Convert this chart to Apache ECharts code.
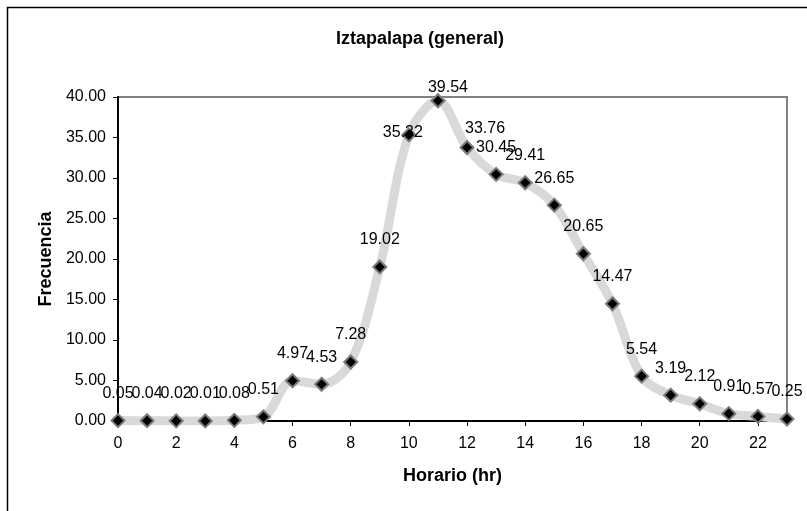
<!DOCTYPE html>
<html>
<head>
<meta charset="utf-8">
<script src="https://cdn.jsdelivr.net/npm/echarts@6/dist/echarts.min.js"></script>
<style>
  html, body { margin: 0; padding: 0; background: #fff; }
  #chart { width: 807px; height: 511px; }
</style>
</head>
<body>
<div id="chart"></div>
<script>
// Hourly frequency, Iztapalapa
const hours = ['0','1','2','3','4','5','6','7','8','9','10','11','12','13','14','15','16','17','18','19','20','21','22','23'];
const frecuencia = [0.05, 0.04, 0.02, 0.01, 0.08, 0.51, 4.97, 4.53, 7.28, 19.02, 35.32, 39.54,
                    33.76, 30.45, 29.41, 26.65, 20.65, 14.47, 5.54, 3.19, 2.12, 0.91, 0.57, 0.25];
const yTicks = { min: 0, max: 40, interval: 5 };

// labels that sit away from the default spot above the marker
const labelShift = { 10: [-6, -2], 11: [10, -13], 12: [18, -19] };

const FONT = 'Liberation Sans, Arial, sans-serif';

const chart = echarts.init(document.getElementById('chart'), null, { renderer: 'canvas' });

const seriesData = frecuencia.map((v, i) => ({
  value: v,
  label: { offset: labelShift[i] || [0, -27] }
}));

chart.setOption({
  animation: false,
  backgroundColor: '#ffffff',
  title: {
    text: 'Iztapalapa (general)',
    left: 415,
    top: 25,
    textAlign: 'center',
    textStyle: { fontFamily: FONT, fontSize: 18, fontWeight: 'bold', color: '#000' }
  },
  graphic: [{
    type: 'rect',
    shape: { x: 7.5, y: 7.5, width: 900, height: 600 },
    style: { fill: 'none', stroke: '#000', lineWidth: 1.5 },
    silent: true
  }],
  grid: {
    left: 118, top: 97, right: 20, bottom: 90,
    show: true, borderColor: '#808080', borderWidth: 2, backgroundColor: 'transparent'
  },
  xAxis: {
    type: 'category',
    data: hours,
    boundaryGap: false,
    name: 'Horario (hr)',
    nameLocation: 'middle',
    nameGap: 46,
    nameTextStyle: { fontFamily: FONT, fontSize: 18, fontWeight: 'bold', color: '#000' },
    axisLine: { lineStyle: { color: '#000', width: 2 } },
    axisTick: { show: true, interval: 1, length: 5, lineStyle: { color: '#000', width: 1 } },
    axisLabel: { interval: 1, margin: 15, fontFamily: FONT, fontSize: 16, color: '#000' },
    splitLine: { show: false }
  },
  yAxis: {
    type: 'value',
    min: yTicks.min, max: yTicks.max, interval: yTicks.interval,
    name: 'Frecuencia',
    nameLocation: 'middle',
    nameGap: 63,
    nameTextStyle: { fontFamily: FONT, fontSize: 18, fontWeight: 'bold', color: '#000' },
    axisLine: { show: true, lineStyle: { color: '#000', width: 2 } },
    axisTick: { show: true, length: 5, lineStyle: { color: '#000', width: 1 } },
    axisLabel: { margin: 12, fontFamily: FONT, fontSize: 16, color: '#000',
                 formatter: v => v.toFixed(2) },
    splitLine: { show: false }
  },
  series: [{
    type: 'line',
    data: seriesData,
    smooth: 0.35,
    lineStyle: { color: '#d9d9d9', width: 9 },
    symbol: 'diamond',
    symbolSize: 13,
    itemStyle: { color: '#000', borderColor: '#7a7a7a', borderWidth: 2 },
    label: {
      show: true,
      position: 'inside',
      fontFamily: FONT, fontSize: 16, color: '#000',
      formatter: p => p.value.toFixed(2)
    },
    z: 3
  }]
});
</script>
</body>
</html>
